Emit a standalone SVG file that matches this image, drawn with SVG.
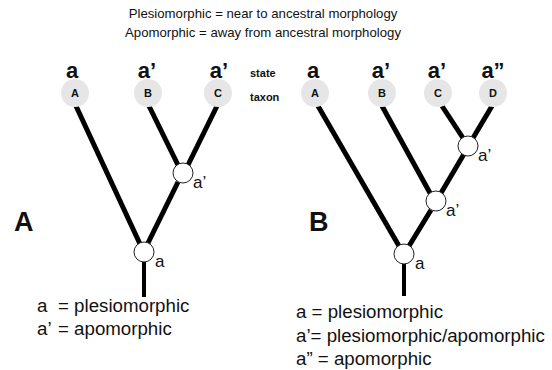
<svg xmlns="http://www.w3.org/2000/svg" width="552" height="370" viewBox="0 0 552 370">
<style>
text{font-family:"Liberation Sans",Arial,sans-serif;fill:#111}
.title{font-size:13.2px;text-anchor:middle}
.state{font-size:22px;font-weight:bold;text-anchor:middle}
.lab{font-size:11px;font-weight:bold;text-anchor:middle}
.side{font-size:11px;font-weight:bold}
.big{font-size:27px;font-weight:bold}
.nl{font-size:17px}
.leg{font-size:18.7px}
.tax{fill:#e6e6e6}
.br{stroke:#000;stroke-width:5;stroke-linecap:butt;fill:none}
.node{fill:#fff;stroke:#222;stroke-width:1}
</style>
<rect width="552" height="370" fill="#fff"/>
<text class="title" x="263" y="18">Plesiomorphic = near to ancestral morphology</text>
<text class="title" x="263" y="37">Apomorphic = away from ancestral morphology</text>
<g id="connectors">
<line class="br" x1="76" y1="106" x2="140" y2="244"/>
<line class="br" x1="149" y1="106" x2="178" y2="165"/>
<line class="br" x1="217" y1="106" x2="188" y2="165"/>
<line class="br" x1="178" y1="182" x2="148" y2="243"/>
<line class="br" x1="144" y1="262" x2="144" y2="297" style="stroke-width:4"/>
<line class="br" x1="318" y1="106" x2="399" y2="246"/>
<line class="br" x1="382" y1="106" x2="430" y2="193"/>
<line class="br" x1="442" y1="106" x2="463" y2="138"/>
<line class="br" x1="492" y1="106" x2="473" y2="138"/>
<line class="br" x1="464" y1="154" x2="441" y2="193"/>
<line class="br" x1="431" y1="210" x2="409" y2="246"/>
<line class="br" x1="404" y1="264" x2="404" y2="296" style="stroke-width:4"/>
</g>
<g id="panelA-header">
<text class="side" x="250" y="77">state</text>
<text class="side" x="250" y="101">taxon</text>
</g>
<g id="A-taxonA"><text class="state" x="72" y="78">a</text><circle class="tax" cx="75" cy="93" r="14"/><text class="lab" x="75" y="97">A</text></g>
<g id="A-taxonB"><text class="state" x="147" y="78">a’</text><circle class="tax" cx="148" cy="93" r="14"/><text class="lab" x="148" y="97">B</text></g>
<g id="A-taxonC"><text class="state" x="219" y="78">a’</text><circle class="tax" cx="218" cy="93" r="14"/><text class="lab" x="218" y="97">C</text></g>
<g id="A-nodeBC"><circle class="node" cx="183" cy="173" r="10"/><text class="nl" x="193" y="188">a’</text></g>
<g id="A-root"><circle class="node" cx="144" cy="252" r="10"/><text class="nl" x="155" y="267">a</text></g>
<g id="A-label"><text class="big" x="14" y="231">A</text></g>
<g id="A-legend">
<text class="leg" x="37" y="312">a<tspan x="58">= plesiomorphic</tspan></text>
<text class="leg" x="37" y="335">a’<tspan x="58">= apomorphic</tspan></text>
</g>
<g id="B-taxonA"><text class="state" x="313" y="78">a</text><circle class="tax" cx="315" cy="93" r="14"/><text class="lab" x="315" y="97">A</text></g>
<g id="B-taxonB"><text class="state" x="381" y="78">a’</text><circle class="tax" cx="382" cy="93" r="14"/><text class="lab" x="382" y="97">B</text></g>
<g id="B-taxonC"><text class="state" x="437" y="78">a’</text><circle class="tax" cx="438" cy="93" r="14"/><text class="lab" x="438" y="97">C</text></g>
<g id="B-taxonD"><text class="state" x="493" y="78">a”</text><circle class="tax" cx="493" cy="93" r="14"/><text class="lab" x="493" y="97">D</text></g>
<g id="B-nodeCD"><circle class="node" cx="468" cy="146" r="10"/><text class="nl" x="478" y="161">a’</text></g>
<g id="B-nodeBCD"><circle class="node" cx="436" cy="201" r="10"/><text class="nl" x="446" y="216">a’</text></g>
<g id="B-root"><circle class="node" cx="404" cy="254" r="10"/><text class="nl" x="415" y="269">a</text></g>
<g id="B-label"><text class="big" x="309" y="231">B</text></g>
<g id="B-legend">
<text class="leg" x="296" y="318">a = plesiomorphic</text>
<text class="leg" x="296" y="342">a’= plesiomorphic/apomorphic</text>
<text class="leg" x="296" y="365">a” = apomorphic</text>
</g>
</svg>
